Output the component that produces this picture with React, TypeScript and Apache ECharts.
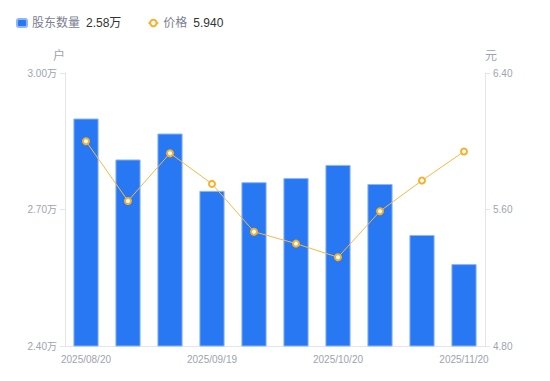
import React, { useEffect, useRef } from "react";
import * as echarts from "echarts";

const categories = [
  "2025/08/20", "2025/08/30", "2025/09/09", "2025/09/19", "2025/09/30",
  "2025/10/10", "2025/10/20", "2025/10/31", "2025/11/10", "2025/11/20",
];
const holders = [29000, 28100, 28670, 27410, 27600, 27690, 27980, 27560, 26440, 25800];
const prices = [6.0, 5.65, 5.93, 5.75, 5.47, 5.4, 5.32, 5.59, 5.77, 5.94];
const holderTicks = { min: 24000, max: 30000, interval: 3000 };
const priceTicks = { min: 4.8, max: 6.4, interval: 0.8 };

export default function App() {
  const ref = useRef<HTMLDivElement>(null);
  useEffect(() => {
    if (!ref.current) return;
    const chart = echarts.init(ref.current, undefined, { renderer: "svg" });
    const lastHolder = holders[holders.length - 1];
    const lastPrice = prices[prices.length - 1];
    const axisColor = "#e3e5ea";
    const labelColor = "#9ea3b0";
    const font = "'Liberation Sans', 'Noto Sans CJK SC', sans-serif";
    chart.setOption({
      animation: false,
      textStyle: { fontFamily: font },
      legend: {
        left: 16,
        top: 17,
        padding: 0,
        itemWidth: 10,
        itemHeight: 8,
        itemGap: 26,
        data: [
          { name: "股东数量", icon: "roundRect", itemStyle: { color: "#2778f2" } },
          { name: "价格" },
        ],
        formatter: (name: string) => {
          if (name === "股东数量") return `{n|${name}}{v|${(lastHolder / 10000).toFixed(2)}万}`;
          return `{n|${name}}{v|${lastPrice.toFixed(3)}}`;
        },
        textStyle: {
          rich: {
            n: { color: "#7b8090", fontSize: 12, padding: [0, 6, 0, 0], fontFamily: font },
            v: { color: "#333333", fontSize: 12, fontFamily: font },
          },
        },
      },
      grid: { left: 65, right: 65, top: 73, bottom: 35 },
      xAxis: {
        type: "category",
        data: categories,
        boundaryGap: true,
        axisLine: { lineStyle: { color: axisColor } },
        axisTick: { show: false },
        axisLabel: { interval: 2, color: labelColor, fontSize: 10, margin: 8 },
      },
      yAxis: [
        {
          type: "value",
          name: "户",
          nameGap: 11,
          nameTextStyle: { color: labelColor, fontSize: 12, align: "right" },
          min: holderTicks.min,
          max: holderTicks.max,
          interval: holderTicks.interval,
          axisLine: { show: true, lineStyle: { color: axisColor } },
          axisTick: { show: true, length: 5, lineStyle: { color: axisColor } },
          splitLine: { show: false },
          axisLabel: {
            color: labelColor,
            fontSize: 10,
            margin: 8,
            formatter: (v: number) => (v / 10000).toFixed(2) + "万",
          },
        },
        {
          type: "value",
          name: "元",
          nameGap: 11,
          nameTextStyle: { color: labelColor, fontSize: 12, align: "left" },
          min: priceTicks.min,
          max: priceTicks.max,
          interval: priceTicks.interval,
          axisLine: { show: true, lineStyle: { color: axisColor } },
          axisTick: { show: true, length: 5, lineStyle: { color: axisColor } },
          splitLine: { show: false },
          axisLabel: {
            color: labelColor,
            fontSize: 10,
            margin: 8,
            formatter: (v: number) => v.toFixed(2),
          },
        },
      ],
      series: [
        {
          name: "股东数量",
          type: "bar",
          data: holders,
          barWidth: "60%",
          itemStyle: { color: "#2778f2", borderColor: "#8db6f8", borderWidth: 1 },
        },
        {
          name: "价格",
          type: "line",
          yAxisIndex: 1,
          data: prices,
          symbol: "emptyCircle",
          symbolSize: 6,
          lineStyle: { color: "#f7b944", width: 1 },
          itemStyle: { color: "#f7b02a", borderWidth: 2 },
        },
      ],
    });
    return () => chart.dispose();
  }, []);
  return <div ref={ref} style={{ width: 550, height: 381, margin: -8 }} />;
}
